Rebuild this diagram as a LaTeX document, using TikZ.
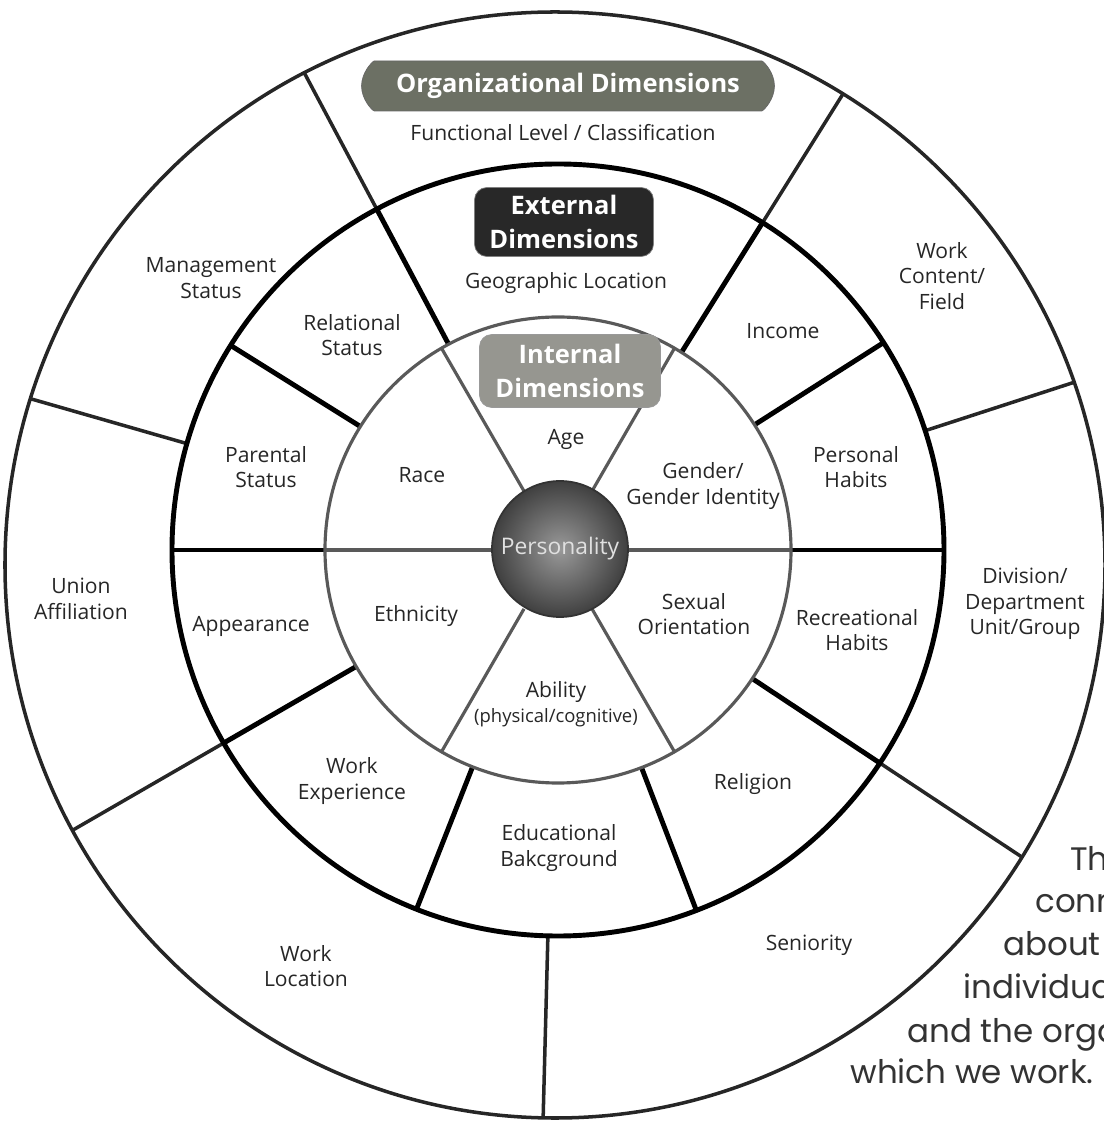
\documentclass[tikz,border=0pt]{standalone}
\usepackage{fontspec}
\setmainfont{Open Sans}
\newfontfamily\notefont{Poppins}
\usetikzlibrary{shapes.misc}
\definecolor{orgfill}{RGB}{108,112,100}
\definecolor{extfill}{RGB}{40,40,40}
\definecolor{intfill}{RGB}{150,150,144}
\tikzstyle{every node}=[font=\fontsize{12}{14.5}\selectfont, text=black!85, align=center]
\tikzstyle{ring}=[line width=2.8pt]
\tikzstyle{outring}=[line width=2pt, black!85]
\tikzstyle{inring}=[line width=1.8pt, black!65]
\tikzstyle{badge}=[text=white, font=\fontsize{14.5}{19}\selectfont\bfseries, rounded corners=7pt, inner sep=2pt]
\tikzstyle{note}=[anchor=base west, inner sep=0pt, font=\notefont\fontsize{18.5}{24}\selectfont, text=black!80]
\newcommand{\subtext}{\fontsize{10.5}{12}\selectfont}

\begin{document}
\begin{tikzpicture}[x=0.02cm, y=0.02cm]
    \useasboundingbox (-558,-574) rectangle (545,550);
    \begin{scope}
        \clip (-3,-15) ellipse (550 and 553);
        \draw[outring] (58:386) -- (58:620);
        \draw[outring] (118:386) -- (118:620);
        \draw[outring] (164:386) -- (164:620);
        \draw[outring] (-150:386) -- (-150:620);
        \draw[outring] (-91.5:386) -- (-91.5:620);
        \draw[outring] (-33.5:386) -- (-33.5:620);
        \draw[outring] (18:386) -- (18:620);
    \end{scope}
    \draw[outring] (-3,-15) ellipse (550 and 553);
    \draw[ring] (0,0) circle (386);
    \draw[ring] (58:233) -- (58:386);
    \draw[ring] (118:233) -- (118:386);
    \draw[ring] (148:233) -- (148:386);
    \draw[ring] (180:233) -- (180:386);
    \draw[ring] (-150:233) -- (-150:386);
    \draw[ring] (-111.5:233) -- (-111.5:386);
    \draw[ring] (-69:233) -- (-69:386);
    \draw[ring] (-33.5:233) -- (-33.5:386);
    \draw[ring] (0:233) -- (0:386);
    \draw[ring] (32.5:233) -- (32.5:386);
    \draw[inring] (0,0) circle (233);
    \draw[inring] (180:233) -- (0:233);
    \draw[inring] (60:68) -- (60:233);
    \draw[inring] (120:68) -- (120:233);
    \draw[inring] (-120:68) -- (-120:233);
    \draw[inring] (-60:68) -- (-60:233);
    \node[circle, draw=black!80, line width=1pt, shading=radial, inner color=black!40, outer color=black!75, minimum size=2.72cm, text=white!88!black, font=\fontsize{13}{15}\selectfont] (pers) at (2,1) {Personality};
    \node[badge, rounded rectangle, fill=orgfill, draw=black!60, minimum width=8.4cm, minimum height=1cm] (org) at (10,464) {Organizational Dimensions};
    \node[badge, fill=extfill, draw=black!50, minimum width=3.58cm, minimum height=1.38cm] (ext) at (6,328) {External\\Dimensions};
    \node[badge, fill=intfill, draw=black!40, minimum width=3.62cm, minimum height=1.46cm] (int) at (12,179) {Internal\\Dimensions};
    \node (func) at (5,417) {Functional Level / Classification};
    \node (geo) at (8,267) {Geographic Location};
    \node (mgmt) at (-347,272) {Management\\Status};
    \node (rel) at (-206,215) {Relational\\Status};
    \node (workc) at (384,274) {Work\\Content/\\Field};
    \node (income) at (225,219) {Income};
    \node (parent) at (-292,83) {Parental\\Status};
    \node (race) at (-136,75) {Race};
    \node (age) at (8,111) {Age};
    \node (gender) at (145,64) {Gender/\\Gender Identity};
    \node (personal) at (298,83) {Personal\\Habits};
    \node (union) at (-477,-49) {Union\\Affiliation};
    \node (appear) at (-307,-76) {Appearance};
    \node (ethnic) at (-142,-66) {Ethnicity};
    \node (sexual) at (136,-64) {Sexual\\Orientation};
    \node (recr) at (299,-80) {Recreational\\Habits};
    \node (divis) at (467,-54) {Division/\\Department\\Unit/Group};
    \node (ability) at (-2,-154) {Ability\\{\subtext (physical/cognitive)}};
    \node (workexp) at (-206,-231) {Work\\Experience};
    \node (relig) at (195,-234) {Religion};
    \node (educ) at (1,-298) {Educational\\Bakcground};
    \node (workloc) at (-252,-416) {Work\\Location};
    \node (senior) at (251,-395) {Seniority};
    \node[note] (n1) at (512,-320) {Th};
    \node[note] (n2) at (477,-362) {conn};
    \node[note] (n3) at (445,-405) {about};
    \node[note] (n4) at (405,-448) {individua};
    \node[note] (n5) at (349,-492) {and the orga};
    \node[note] (n6) at (292,-533) {which we work.};
\end{tikzpicture}
\end{document}
